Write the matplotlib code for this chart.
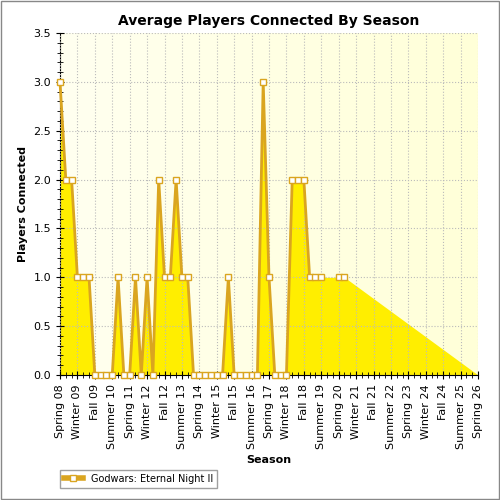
import numpy as np
import matplotlib
matplotlib.use("Agg")
import matplotlib.pyplot as plt
from matplotlib.ticker import MultipleLocator
from matplotlib.colors import LinearSegmentedColormap
from matplotlib.lines import Line2D

names = ["Spring", "Summer", "Fall", "Winter"]
seasons = []
y, s = 8, 0
for i in range(73):
    seasons.append(f"{names[s]} {y:02d}")
    s += 1
    if s == 3:
        y += 1
    if s == 4:
        s = 0
nan = np.nan
players = [3, 2, 2, 1, 1, 1, 0, 0, 0, 0, 1, 0, 0, 1, 0, 1, 0, 2, 1, 1, 2, 1, 1,
           0, 0, 0, 0, 0, 0, 1, 0, 0, 0, 0, 0, 3, 1, 0, 0, 0, 2, 2, 2, 1, 1, 1,
           nan, nan, 1, 1] + [nan] * 22 + [0]

vals = np.array(players, dtype=float)
x = np.arange(len(vals))
ok = ~np.isnan(vals)
filled = np.interp(x, x[ok], vals[ok])

fig = plt.figure(figsize=(5, 5), dpi=100)
fig.patch.set_facecolor("white")
ax = fig.add_axes([0.12, 0.25, 0.836, 0.684])
grad = np.linspace(0, 1, 256).reshape(1, -1)
cmap = LinearSegmentedColormap.from_list("bg", ["#fffff0", "#ffffd8"])
ax.imshow(grad, extent=[0, 72, 0, 3.5], aspect="auto", cmap=cmap, zorder=0)

ax.fill_between(x, filled, 0, color="#ffee00", zorder=2, linewidth=0)
xl = x[:50]
vl = vals[:50]
ax.plot(xl[:46], vl[:46], color="#daa520", lw=2, zorder=3, clip_on=False)
ax.plot(xl[48:50], vl[48:50], color="#daa520", lw=2, zorder=3)
ax.plot(xl[ok[:50]], vl[ok[:50]], ls="none", marker="s", ms=5, mfc="white",
        mec="#daa520", mew=1, zorder=4, clip_on=False)

ax.set_xlim(0, 72)
ax.set_ylim(0, 3.5)
ax.set_xticks(x[::3])
ax.set_xticklabels(seasons[::3], rotation=90, fontsize=8)
ax.xaxis.set_minor_locator(MultipleLocator(1))
ax.set_yticks(np.arange(0, 3.6, 0.5))
ax.set_yticklabels([f"{v:.1f}" for v in np.arange(0, 3.6, 0.5)], fontsize=8)
ax.yaxis.set_minor_locator(MultipleLocator(0.1))
ax.tick_params(direction="inout", length=6)
ax.tick_params(which="minor", direction="inout", length=4)
ax.grid(True, ls=":", color="#bbbbbb", lw=0.8, zorder=1)
ax.set_axisbelow(False)
for sp in ["top", "right"]:
    ax.spines[sp].set_visible(False)
ax.set_title("Average Players Connected By Season", fontsize=10, fontweight="bold")
ax.set_xlabel("Season", fontsize=8, fontweight="bold")
ax.set_ylabel("Players Connected", fontsize=8, fontweight="bold")

h = Line2D([], [], color="#daa520", lw=4, marker="s", ms=5, mfc="white", mec="#daa520")
fig.legend([h], ["Godwars: Eternal Night II"], loc="lower left",
           bbox_to_anchor=(0.11, 0.015), fontsize=7, frameon=True, fancybox=False,
           edgecolor="#888888", handlelength=2)
fig.patches.append(plt.Rectangle((0.002, 0.002), 0.996, 0.996, transform=fig.transFigure,
                                 fill=False, edgecolor="#888888", lw=1))
fig.savefig("out.png", dpi=100)
